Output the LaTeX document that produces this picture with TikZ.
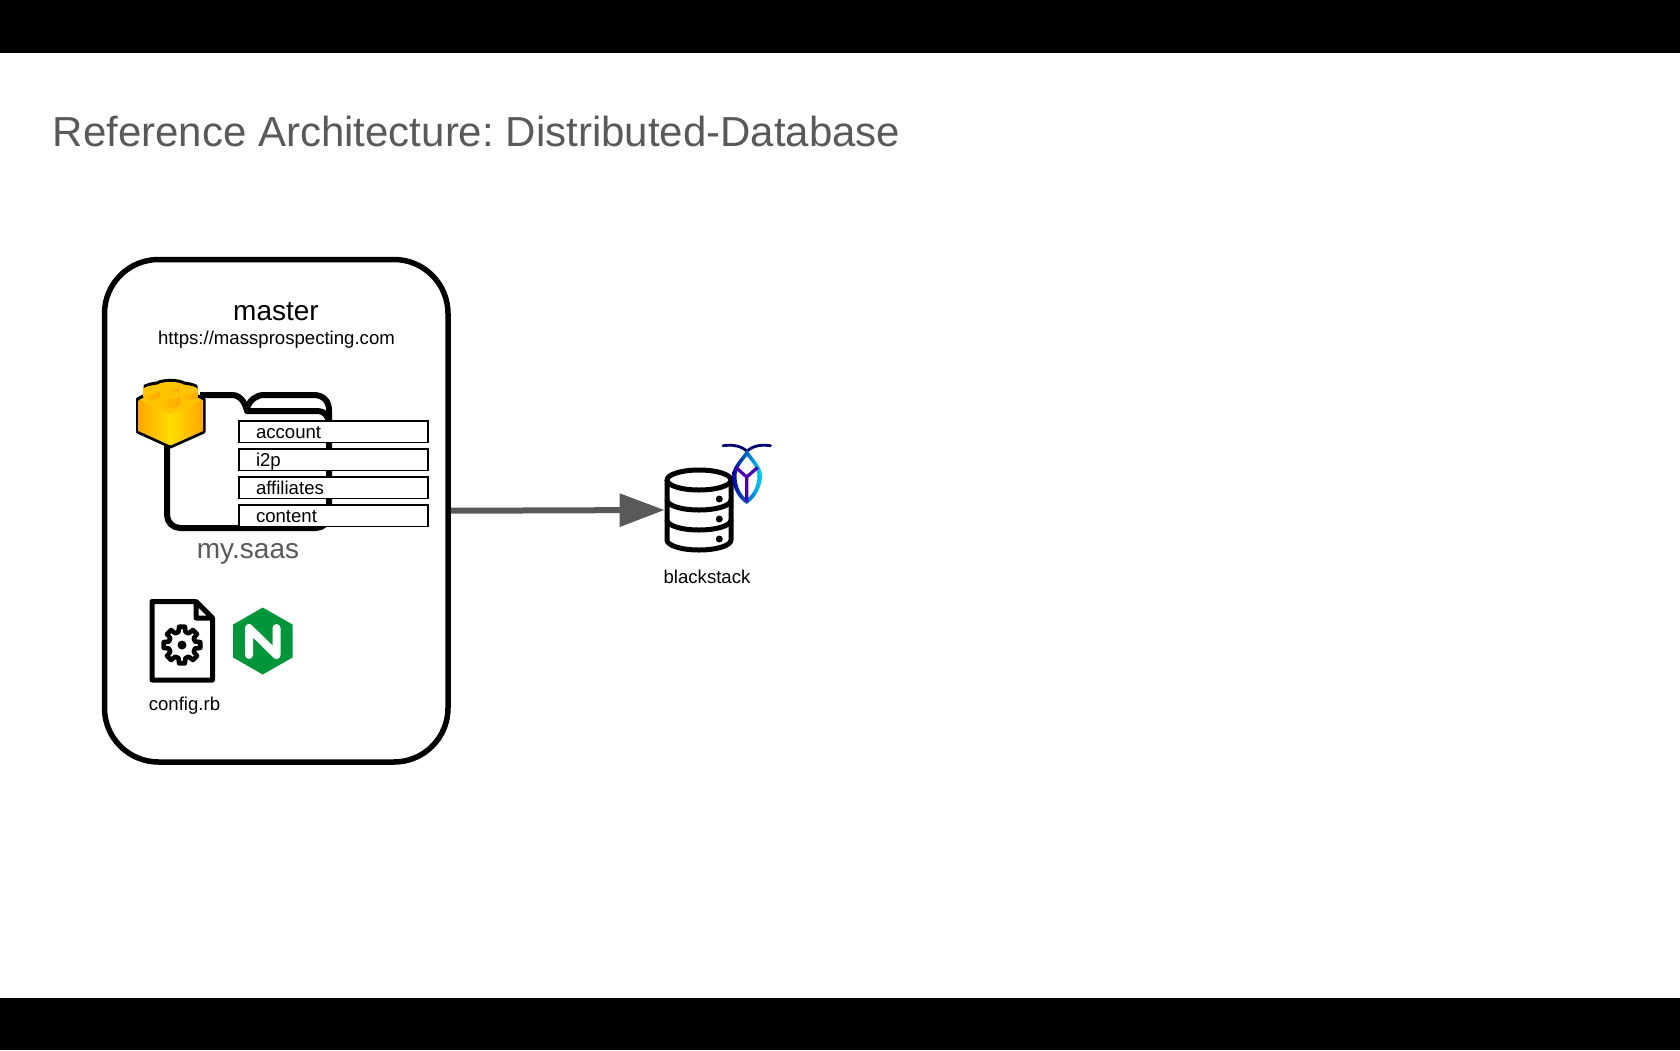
\documentclass[tikz,border=0pt]{standalone}
\usepackage{fontspec}
\setmainfont{Liberation Sans}
\usetikzlibrary{arrows.meta}

\definecolor{titlegray}{HTML}{595959}
\definecolor{nginxgreen}{HTML}{009639}
\definecolor{brickgold}{HTML}{FFC400}
\definecolor{brickorange}{HTML}{FFA800}
\definecolor{brickyellow}{HTML}{FFDC00}

\tikzset{
    hostbox/.style={draw,line width=2.75pt,rounded corners=27pt,minimum width=171.75pt,minimum height=251.25pt,inner sep=0pt,outer sep=0pt},
    itembox/.style={draw,fill=white,line width=0.8pt,anchor=west,text width=77.35pt,inner xsep=8.5pt,inner ysep=0pt,text height=8.65pt,text depth=2.15pt,font=\fontsize{9.3}{11}\selectfont},
    label/.style={anchor=base,font=\fontsize{9.3}{11}\selectfont},
    iconline/.style={line width=2.5pt,line join=round},
    folderline/.style={line width=3pt,rounded corners=6.5pt,line join=round},
    flowarrow/.style={line width=3pt,titlegray,shorten <=1.4pt,-{Triangle[length=22.5pt,width=16pt]}}
}

\begin{document}
\frenchspacing
\begin{tikzpicture}[x=0.5pt,y=-0.5pt]
    \useasboundingbox (0,0) rectangle (1680,1050);

    % Bands
    \fill[black] (0,0) rectangle (1680,53);
    \fill[black] (0,998) rectangle (1680,1050);

    % Title
    \node[anchor=base west,inner sep=0pt,titlegray,font=\fontsize{21}{25}\selectfont] (title) at (52.5,146) {Reference Architecture: Distributed-Database};

    % Master
    \node[hostbox] (master) at (276.25,510.75) {};
    \node[label,font=\fontsize{14}{17}\selectfont] (mastername) at (276,320) {master};
    \node[label] (masterurl) at (276.5,344) {https://massprospecting.com};

    % Flow
    \node[inner sep=0pt,minimum width=34pt,minimum height=42pt] (blackstack) at (699,510) {};
    \draw[flowarrow] (master.east) -- (blackstack.west);

    % Folder
    \draw[folderline,rounded corners=0pt] (200,395) -- (232,395) .. controls (240,395) and (245,402) .. (247,411) -- (318,411) .. controls (324,411) and (329,416) .. (329,424);
    \draw[folderline] (167,440) -- (167,528) -- (329,528) -- (329,420);
    \draw[line width=3pt] (247,408) .. controls (250,400) and (256,395) .. (264,395) -- (314,395) .. controls (323,395) and (329,401) .. (329,410) -- (329,422);

    % Brick
    \draw[fill=brickgold,line width=1.5pt,line join=round] (137.5,399) -- (145,395) -- (145,386) .. controls (150,384) .. (157,383) .. controls (162,379.5) and (179,379.5) .. (184,383) .. controls (191,384) .. (196,386) -- (196,395) -- (204,399) -- (204,432) -- (170.5,447) -- (137.5,432) -- cycle;
    \shade[left color=brickorange,right color=brickyellow] (138.5,400) -- (170.5,414) -- (170.5,445.5) -- (138.5,431) -- cycle;
    \shade[left color=brickyellow,right color=brickorange] (170.5,414) -- (203,400) -- (203,431) -- (170.5,445.5) -- cycle;
    \foreach \sx/\sy/\srad/\shigh in {170.5/386/8.5/5, 151.5/390/8.5/6, 189.5/390/8.5/6, 170.5/395/9.5/9} {
        \shade[left color=brickgold,right color=brickorange] (\sx-\srad,\sy) -- (\sx-\srad,\sy+\shigh) arc[start angle=180,end angle=0,x radius=\srad,y radius=4] -- (\sx+\srad,\sy) -- cycle;
        \fill[brickgold] (\sx,\sy) ellipse [x radius=\srad,y radius=4];
    }

    % Packages
    \foreach \name/\ypos in {account/431.5,i2p/459.5,affiliates/487.5,content/515.5} {
        \node[itembox] (\name) at (238.2,\ypos) {\name};
    }
    \node[label,titlegray,font=\fontsize{14}{17}\selectfont] (saasname) at (248,558) {my.saas};

    % Config file
    \draw[iconline] (196,601.5) -- (152,601.5) -- (152,680) -- (212.5,680) -- (212.5,618) -- (196,601.5) -- (196,618) -- (212.5,618);
    \draw[line width=2.3pt,line join=round,shift={(182,645)}]
        (-9:18.5) \foreach \a in {0,45,...,315} {
            -- (\a-9:18.5) -- (\a+9:18.5) -- (\a+15:13.5) -- (\a+30:13.5)
        } -- cycle;
    \fill (182,645) circle (4.5);
    \node[label] (configname) at (184.5,710) {config.rb};

    % Nginx
    \fill[nginxgreen] (262.7,607.5) -- (292.5,624.5) -- (292.5,657.5) -- (262.7,674.5) -- (233.2,657.5) -- (233.2,624.5) -- cycle;
    \draw[white,line width=4pt,line cap=round,line join=round] (249,655) -- (249,628) -- (276.5,655) -- (276.5,628);

    % Blackstack
    \draw[iconline] (699,480) ellipse [x radius=32,y radius=10];
    \draw[iconline] (667,480) -- (667,540) arc[start angle=180,end angle=0,x radius=32,y radius=10] -- (731,480);
    \foreach \ypos in {500,520} {
        \draw[iconline] (667,\ypos) arc[start angle=180,end angle=0,x radius=32,y radius=10];
    }
    \foreach \ypos in {499,519,539} {
        \fill (719.3,\ypos) circle (3.5);
    }
    \node[label] (stackname) at (707,583.5) {blackstack};

    % Leaf
    \draw[line width=1.4pt,blue!45!black,line cap=round] (723,445.7) .. controls (735,444) and (742,447) .. (747,451);
    \draw[line width=1.4pt,blue!45!black,line cap=round] (770.5,445.7) .. controls (758,444) and (752,447) .. (747,451);
    \shade[left color=blue!60!black,middle color=violet!60!blue,right color=cyan!85!blue,even odd rule]
        (746.7,504) .. controls (737,498) and (732,486) .. (732,476) .. controls (732,466) and (742,458) .. (747,449.5)
        .. controls (752,458) and (762,466) .. (762,476) .. controls (762,486) and (756,498) .. (746.7,504) -- cycle
        (746.7,499) .. controls (740,494) and (736.5,485) .. (736.5,476) .. controls (736.5,468) and (743,461) .. (747,456)
        .. controls (751,461) and (757.5,468) .. (757.5,476) .. controls (757.5,485) and (753.5,494) .. (746.7,499) -- cycle;
    \draw[line width=1.6pt,violet!60!blue] (746.7,502) -- (746.7,477) -- (736,467.5) (746.7,477) -- (757.5,467.5);
\end{tikzpicture}
\end{document}
